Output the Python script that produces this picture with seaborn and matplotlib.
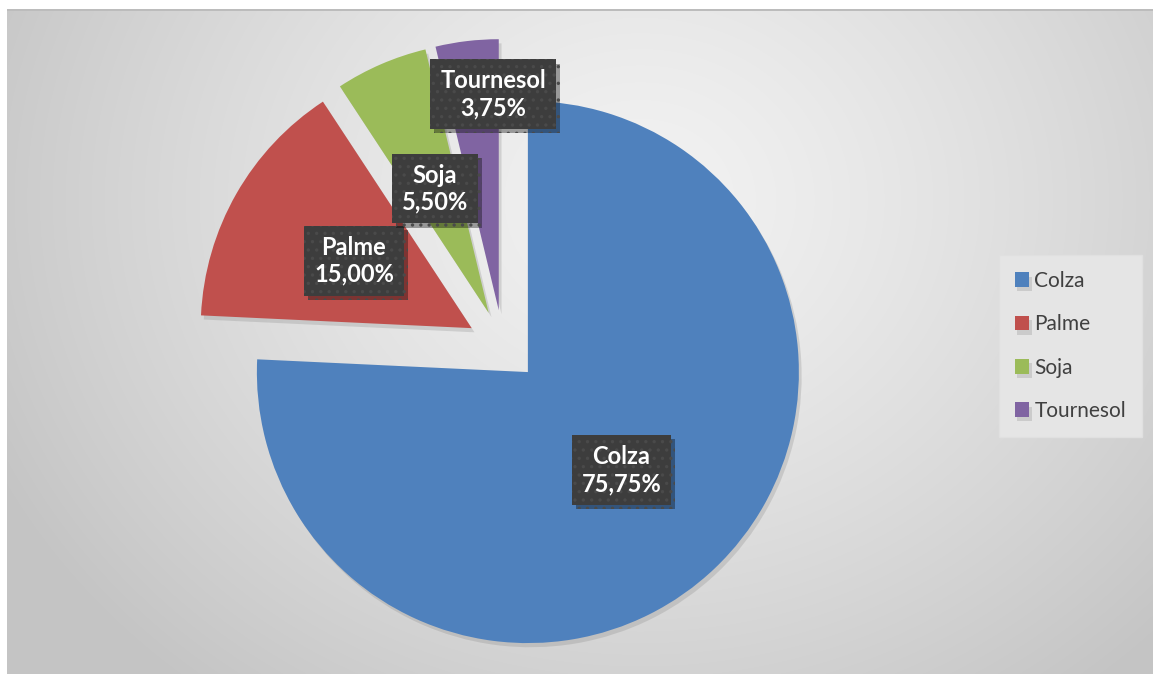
import numpy as np
import matplotlib
matplotlib.use("Agg")
import matplotlib.pyplot as plt
import matplotlib.patheffects as pe
import seaborn as sns

# Oil sources and their shares (%)
categories = ["Colza", "Palme", "Soja", "Tournesol"]
shares = [75.75, 15.00, 5.50, 3.75]
colors = ["#4F81BD", "#C0504D", "#9BBB59", "#8064A2"]

sns.set_theme(style="white")
plt.rcParams["font.family"] = ["Lato", "DejaVu Sans"]
plt.rcParams["hatch.color"] = "#565656"
plt.rcParams["hatch.linewidth"] = 1.2

W, H = 1153, 674
fig = plt.figure(figsize=(W / 100, H / 100), dpi=100)

# Background: soft radial grey gradient framed by a thin white margin
bg = fig.add_axes([0, 0, 1, 1])
yy, xx = np.mgrid[0:H, 0:W]
dist = np.hypot(xx - 640, (yy - 200) * 1.15) / 720.0
dist = np.clip(dist, 0, 1)
light, dark = 0.95, 0.77
shade = light - (light - dark) * dist ** 1.3
img = np.dstack([shade] * 3)
img[:9, :, :] = 1.0
img[:, :7, :] = 1.0
img[9:11, 7:, :] = 0.74
bg.imshow(img, extent=(0, W, H, 0), interpolation="bilinear")
bg.set_xlim(0, W)
bg.set_ylim(H, 0)
bg.axis("off")

# Pie axes: one data unit equals the pie radius (271 px)
R = 271.0
cx, cy = 503.0, 346.0
ax = fig.add_axes([0, 0, 1, 1])
ax.set_facecolor("none")

palette = sns.color_palette(colors)
explode_frac = 0.133
wedges, texts, autotexts = ax.pie(
    shares,
    colors=palette,
    startangle=90,
    counterclock=False,
    explode=[explode_frac] * len(shares),
    radius=1.0,
    autopct="%1.2f%%",
    pctdistance=0.5,
    wedgeprops=dict(linewidth=0),
    textprops=dict(color="white", fontsize=17, fontweight="bold"),
)
ax.set_aspect("auto")
ax.set_xlim(-cx / R, (W - cx) / R)
ax.set_ylim(-(H - cy) / R, cy / R)
ax.axis("off")

for w in wedges:
    w.set_path_effects([
        pe.SimplePatchShadow(offset=(2, -3), shadow_rgbFace="#808080", alpha=0.25),
        pe.Normal(),
    ])

for cat, val, t, w in zip(categories, shares, autotexts, wedges):
    txt = f"{val:.2f}%".replace(".", ",")
    t.set_text(f"{cat}\n{txt}")
    t.set_linespacing(1.2)
    t.set_ha("center")
    t.set_va("center")
    t.set_bbox(dict(boxstyle="square,pad=0.42", facecolor="#3d3d3d",
                    edgecolor="#4a4a4a", hatch="..", linewidth=0))
    t.get_bbox_patch().set_path_effects([
        pe.SimplePatchShadow(offset=(3, -3), shadow_rgbFace="black", alpha=0.35),
        pe.Normal(),
    ])

# The narrow last slice gets its label pushed outward so it stays readable
w = wedges[-1]
mid = np.deg2rad((w.theta1 + w.theta2) / 2 - 4.5)
autotexts[-1].set_position((0.93 * np.cos(mid), 0.93 * np.sin(mid)))

# Legend box on the right
leg = fig.legend(
    wedges, categories,
    loc="center left",
    bbox_to_anchor=(999 / W, 1 - 346 / H),
    frameon=True,
    fontsize=15,
    handlelength=0.7, handleheight=0.7, handletextpad=0.25,
    labelspacing=1.12,
    borderpad=0.75,
    borderaxespad=0,
    fancybox=False,
)
leg.get_frame().set_facecolor("#e5e5e5")
leg.get_frame().set_edgecolor("#e0e0e0")
leg.get_frame().set_alpha(1)
for txt in leg.get_texts():
    txt.set_color("#404040")

fig.savefig("out.png", dpi=100)
